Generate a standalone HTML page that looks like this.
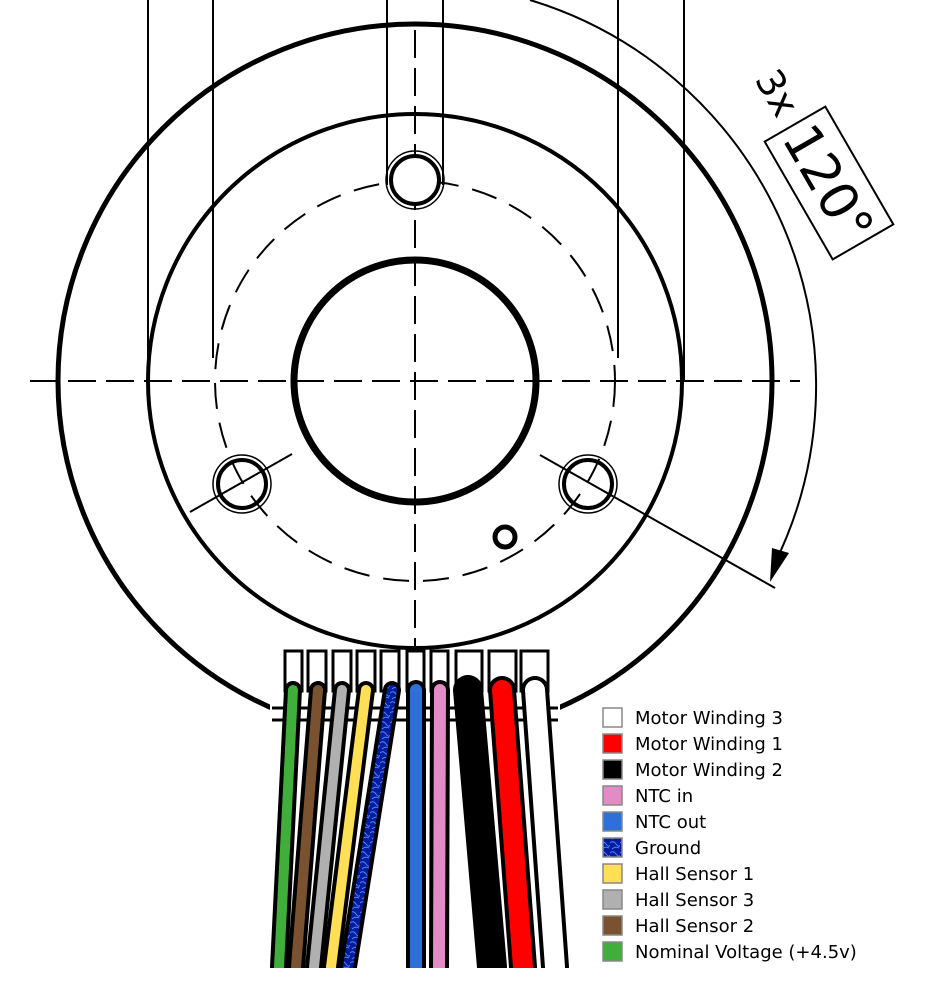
<!DOCTYPE html>
<html><head><meta charset="utf-8"><style>
html,body{margin:0;padding:0;background:#fff;}
svg{display:block;}
text{font-family:"DejaVu Sans","Liberation Sans",sans-serif;}
</style></head><body>
<svg id="s" width="940" height="992" viewBox="0 0 940 992" xmlns="http://www.w3.org/2000/svg">
<defs>
<pattern id="gnd" width="10" height="10" patternUnits="userSpaceOnUse">
<rect width="10" height="10" fill="#0a1aa0"/>
<path d="M0 3 Q3 0 6 4 T10 5 M2 9 Q5 6 9 8" stroke="#3a8ef0" stroke-width="1" fill="none"/>
</pattern>
</defs>
<g fill="none" stroke="#000">
<line x1="148" y1="0" x2="148" y2="381" stroke-width="2"/>
<line x1="684" y1="0" x2="684" y2="381" stroke-width="2"/>
<line x1="213" y1="0" x2="213" y2="358" stroke-width="2"/>
<line x1="618" y1="0" x2="618" y2="358" stroke-width="2"/>
<line x1="387" y1="0" x2="387" y2="185" stroke-width="2"/>
<line x1="443" y1="0" x2="443" y2="185" stroke-width="2"/>
<circle cx="415" cy="381" r="357" stroke-width="5"/>
<circle cx="415" cy="381" r="267" stroke-width="4"/>
<circle cx="415" cy="381" r="121" stroke-width="7"/>
<circle cx="415" cy="381" r="200" stroke-width="2" stroke-dasharray="26 14"/>
<line x1="30" y1="381" x2="800" y2="381" stroke-width="2" stroke-dasharray="28 10"/>
<line x1="415" y1="30" x2="415" y2="650" stroke-width="2" stroke-dasharray="28 10"/>
<line x1="190" y1="512" x2="292" y2="454" stroke-width="2"/>
<line x1="540" y1="455" x2="775" y2="588" stroke-width="2"/>
<g><circle cx="415" cy="180" r="24" fill="#fff" stroke-width="4"/><circle cx="415" cy="180" r="29" stroke-width="1.5"/></g>
<g><circle cx="242" cy="484" r="24" stroke-width="4"/><circle cx="242" cy="484" r="29" stroke-width="1.5"/></g>
<g><circle cx="588" cy="484" r="24" stroke-width="4"/><circle cx="588" cy="484" r="29" stroke-width="1.5"/></g>
<circle cx="505" cy="537" r="10" stroke-width="5"/>
<path d="M 530 0 A 403 403 0 0 1 774 565" stroke-width="2"/>
</g>
<polygon points="770,582 772,548 789,553" fill="#000"/>
<g transform="translate(829,183) rotate(60)">
<rect x="-68" y="-35" width="136" height="70" fill="#fff" stroke="#000" stroke-width="2"/>
<text x="0" y="19" font-size="52" text-anchor="middle" fill="#000" font-family="DejaVu Sans, sans-serif">120°</text>
<text x="-104" y="13" font-size="38" text-anchor="middle" fill="#000" font-family="DejaVu Sans, sans-serif">3x</text>
</g>
<rect x="270" y="690" width="290" height="60" fill="#fff"/>
<g id="wires"></g>
<g id="legend"></g>
</svg>
<script>
const labels=["Nominal Voltage (+4.5v)","Hall Sensor 2","Hall Sensor 3","Hall Sensor 1","Ground","NTC out","NTC in","Motor Winding 2","Motor Winding 1","Motor Winding 3"];
const colors=["#3fae3a","#7a5230","#b0b0b0","#ffdf55","url(#gnd)","#2f6fd8","#e38bc4","#000000","#ff0000","#ffffff"];
const topX=[293,318,342,366,392,416,440,468,502,535];
const botX=[279,296,314,331,348,416,439,492,523,555];
const widths=[10,10,10,10,10,12,12,22,20,20];
const boxL=[285,308,333,357,381,407,431,456,489,521];
const boxR=[302,326,351,375,399,424,448,482,516,548];
const legendOrder=[9,8,7,6,5,4,3,2,1,0];
const NS="http://www.w3.org/2000/svg";
const W=document.getElementById('wires');
function mk(t,a){const e=document.createElementNS(NS,t);for(const k in a)e.setAttribute(k,a[k]);return e;}
for(let i=0;i<labels.length;i++){
  const r=mk('rect',{x:boxL[i],y:651,width:boxR[i]-boxL[i],height:40,fill:'#fff',stroke:'#000','stroke-width':3});
  
  
  W.appendChild(r);
}
const band=mk('path',{d:'M272 708 H558 M272 720 H558',stroke:'#000','stroke-width':3,fill:'none'});


W.appendChild(band);
for(let i=0;i<labels.length;i++){
  const g=mk('g',{});
  
  
  const w=widths[i];
  g.appendChild(mk('line',{x1:topX[i],y1:690,x2:botX[i],y2:967,stroke:'#000','stroke-width':w+8,'stroke-linecap':'round'}));
  g.appendChild(mk('line',{x1:topX[i],y1:690,x2:botX[i],y2:967,stroke:colors[i],'stroke-width':w,'stroke-linecap':'round'}));
  W.appendChild(g);
}
const cut=mk('rect',{x:260,y:968,width:320,height:30,fill:'#fff'});


W.appendChild(cut);
const L=document.getElementById('legend');
legendOrder.forEach((idx,k)=>{
  const g=mk('g',{});
  
  
  const y=708+k*26;
  g.appendChild(mk('rect',{x:603,y:y,width:19,height:19,fill:colors[idx],stroke:'#888','stroke-width':1.5}));
  const t=mk('text',{x:635,y:y+16,'font-size':18,fill:'#000'});
  t.textContent=labels[idx];
  g.appendChild(t);
  L.appendChild(g);
});
</script>
</body></html>
